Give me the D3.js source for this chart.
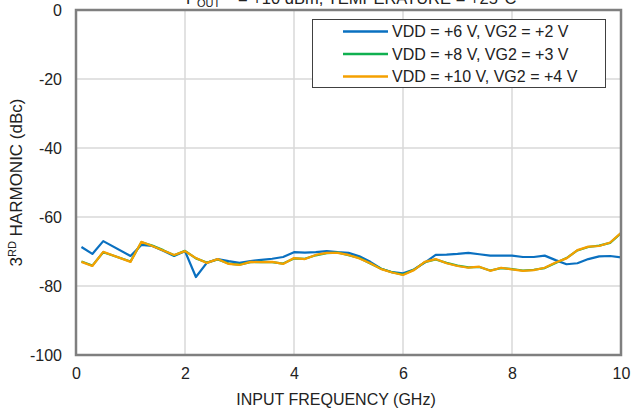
<!DOCTYPE html>
<html><head><meta charset="utf-8">
<script src="https://cdn.jsdelivr.net/npm/d3@7"></script>
<style>body{margin:0;background:#fff}svg{display:block}text{font-family:"Liberation Sans",Arial,sans-serif;fill:#222}</style>
</head><body><svg id="c" width="635" height="408"></svg>
<script>
const freqs = [0.1,0.3,0.5,1.0,1.2,1.4,1.6,1.8,2.0,2.2,2.4,2.6,2.8,3.0,3.2,3.4,3.6,3.8,4.0,4.2,4.4,4.6,4.8,5.0,5.2,5.4,5.6,5.8,6.0,6.2,6.4,6.6,6.8,7.0,7.2,7.4,7.6,7.8,8.0,8.2,8.4,8.6,8.8,9.0,9.2,9.4,9.6,9.8,10.0];
const vdd6 = [-68.7,-70.7,-67.0,-71.3,-68.1,-68.4,-69.8,-71.3,-69.9,-77.4,-73.3,-72.2,-72.8,-73.3,-72.8,-72.4,-72.1,-71.6,-70.2,-70.3,-70.2,-69.9,-70.2,-70.4,-71.4,-73.0,-75.0,-76.0,-76.3,-75.2,-73.2,-71.0,-70.9,-70.7,-70.4,-70.8,-71.2,-71.2,-71.2,-71.6,-71.6,-71.2,-72.5,-73.7,-73.4,-72.2,-71.4,-71.3,-71.7];
const vdd8 = [-72.9,-74.1,-70.2,-72.9,-67.3,-68.3,-69.6,-71.1,-69.8,-72.0,-73.2,-72.3,-73.5,-73.8,-73.1,-73.0,-73.1,-73.5,-72.0,-72.1,-71.1,-70.5,-70.3,-71.1,-71.9,-73.5,-75.0,-76.0,-76.7,-75.3,-73.1,-72.3,-73.3,-74.1,-74.6,-74.5,-75.5,-74.8,-75.1,-75.5,-75.3,-74.8,-73.3,-71.9,-69.7,-68.7,-68.3,-67.5,-64.7];
const vdd10 = [-73.0,-74.2,-70.1,-73.0,-67.2,-68.4,-69.7,-71.0,-69.9,-71.9,-73.3,-72.2,-73.6,-73.9,-73.0,-73.1,-73.0,-73.6,-71.9,-72.2,-71.0,-70.4,-70.4,-71.0,-72.0,-73.4,-75.1,-76.1,-76.8,-75.4,-73.0,-72.2,-73.4,-74.2,-74.7,-74.4,-75.6,-74.7,-75.2,-75.6,-75.4,-74.7,-73.2,-72.0,-69.6,-68.6,-68.4,-67.4,-64.6];
const seriesNames = ["VDD = +6 V, VG2 = +2 V","VDD = +8 V, VG2 = +3 V","VDD = +10 V, VG2 = +4 V"];
const seriesColors = ["#0a70c0","#10b050","#f5a000"];
const xTicks = [0,2,4,6,8,10];
const yTicks = [0,-20,-40,-60,-80,-100];

const svg = d3.select("#c");
const L=76, R=621, T=10, B=355;
const x = d3.scaleLinear().domain([0,10]).range([L,R]);
const y = d3.scaleLinear().domain([-100,0]).range([B,T]);
const FF = '"Liberation Sans",Arial,sans-serif';

// grid
svg.append("g").selectAll("line").data(xTicks.slice(1,-1)).join("line")
  .attr("x1",d=>x(d)).attr("x2",d=>x(d)).attr("y1",T).attr("y2",B)
  .attr("stroke","#d9d9d9").attr("stroke-width",1.5);
svg.append("g").selectAll("line").data(yTicks.slice(1,-1)).join("line")
  .attr("x1",L).attr("x2",R).attr("y1",d=>y(d)).attr("y2",d=>y(d))
  .attr("stroke","#d9d9d9").attr("stroke-width",1.5);

// axes
const fs = "16px";
const fmt = d => String(d);
const xAxis = svg.append("g").attr("transform",`translate(0,${B})`)
  .call(d3.axisBottom(x).tickValues(xTicks).tickSize(0).tickPadding(13).tickFormat(fmt));
xAxis.select(".domain").remove();
xAxis.selectAll("text").style("font-size",fs).attr("fill","#222").style("font-family",FF);
const yAxis = svg.append("g").attr("transform",`translate(${L},0)`)
  .call(d3.axisLeft(y).tickValues(yTicks).tickSize(0).tickPadding(14).tickFormat(fmt));
yAxis.select(".domain").remove();
yAxis.selectAll("text").style("font-size",fs).attr("fill","#222").style("font-family",FF);

// lines
const data = [vdd6, vdd8, vdd10];
const line = d3.line().x((d,i)=>x(freqs[i])).y(d=>y(d));
data.forEach((s,k)=>{
  svg.append("path").datum(s).attr("d",line).attr("fill","none")
    .attr("stroke",seriesColors[k]).attr("stroke-width",2.2).attr("stroke-linejoin","round");
});

// frame
svg.append("rect").attr("x",L).attr("y",T).attr("width",R-L).attr("height",B-T)
  .attr("fill","none").attr("stroke","#7f7f7f").attr("stroke-width",2.5);

// legend
const lg = svg.append("g");
lg.append("rect").attr("x",312.5).attr("y",19.5).attr("width",293).attr("height",68)
  .attr("fill","#fff").attr("stroke","#404040").attr("stroke-width",1);
seriesNames.forEach((n,k)=>{
  const yy = 31.5 + k*22.5;
  lg.append("line").attr("x1",343).attr("x2",388).attr("y1",yy).attr("y2",yy)
    .attr("stroke",seriesColors[k]).attr("stroke-width",2.5);
  lg.append("text").attr("x",392).attr("y",yy).attr("dy","0.35em").style("font-size",fs).text(n);
});

// titles
const tt = svg.append("text").attr("x",186).attr("y",4).style("font-size","16.5px");
tt.append("tspan").text("P");
tt.append("tspan").attr("dy",3).style("font-size","11px").text("OUT");
tt.append("tspan").attr("dy",-3).attr("x",238).text("= +10 dBm, TEMPERATURE = +25°C");

svg.append("text").attr("x",336).attr("y",405).attr("text-anchor","middle").style("font-size",fs)
  .text("INPUT FREQUENCY (GHz)");
const yt = svg.append("text").attr("transform",`translate(22,${(T+B)/2}) rotate(-90)`).attr("text-anchor","middle").style("font-size","17px");
yt.append("tspan").text("3");
yt.append("tspan").attr("dy",-6).style("font-size","11px").text("RD");
yt.append("tspan").attr("dy",6).text(" HARMONIC (dBc)");
</script></body></html>
